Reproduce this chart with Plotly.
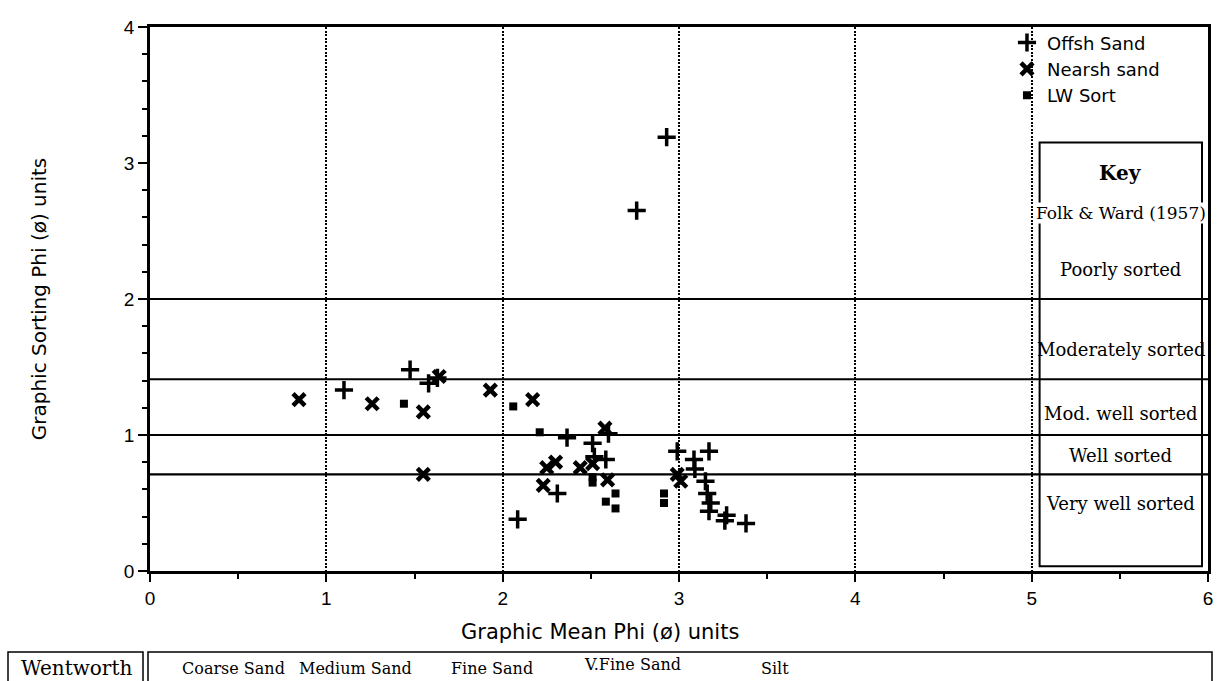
import plotly.graph_objects as go

# Graphic mean (phi) and graphic sorting (phi) for each sample group
offsh_mean = [2.93, 2.76, 1.475, 1.10, 1.58, 1.63, 2.365, 2.51, 2.60, 2.52, 2.585, 2.31, 2.085,
              2.99, 3.17, 3.085, 3.09, 3.15, 3.16, 3.18, 3.17, 3.27, 3.26, 3.38]
offsh_sort = [3.19, 2.65, 1.48, 1.33, 1.38, 1.42, 0.98, 0.94, 1.01, 0.84, 0.82, 0.57, 0.38,
              0.88, 0.88, 0.82, 0.75, 0.66, 0.57, 0.50, 0.44, 0.41, 0.37, 0.35]

nearsh_mean = [0.845, 1.26, 1.55, 1.64, 1.55, 1.93, 2.17, 2.58, 2.25, 2.30, 2.44, 2.51, 2.595, 2.23, 2.99, 3.01]
nearsh_sort = [1.26, 1.23, 1.17, 1.43, 0.71, 1.33, 1.26, 1.05, 0.76, 0.80, 0.76, 0.79, 0.67, 0.63, 0.71, 0.66]

lw_mean = [1.44, 2.06, 2.21, 2.51, 2.51, 2.585, 2.64, 2.64, 2.915, 2.915]
lw_sort = [1.23, 1.21, 1.02, 0.69, 0.65, 0.51, 0.57, 0.46, 0.57, 0.50]

# Folk & Ward (1957) sorting class boundaries and names
sort_bounds = [2.0, 1.41, 1.0, 0.71]
sort_classes = ["Poorly sorted", "Moderately sorted", "Mod. well sorted", "Well sorted", "Very well sorted"]

# Wentworth grain-size classes
wentworth_classes = ["Coarse Sand", "Medium Sand", "Fine Sand", "V.Fine Sand", "Silt"]

x_ticks = [0, 1, 2, 3, 4, 5, 6]
y_ticks = [0, 1, 2, 3, 4]

SANS = "Liberation Sans, Arial, sans-serif"
WIDE_SANS = "DejaVu Sans, sans-serif"
SERIF = "DejaVu Serif, Times New Roman, serif"

# plot area in page pixels
L, R, T, B = 150, 1208, 27, 571
W_PX, H_PX = R - L, B - T


def px_to_paper(px, py):
    return (px - L) / W_PX, (B - py) / H_PX


fig = go.Figure()

fig.add_trace(go.Scatter(
    x=offsh_mean, y=offsh_sort, mode="markers", name="Offsh Sand",
    marker=dict(symbol="cross-thin", size=13, color="black", line=dict(width=3.5, color="black")),
))
fig.add_trace(go.Scatter(
    x=nearsh_mean, y=nearsh_sort, mode="markers", name="Nearsh sand",
    marker=dict(symbol="x-thin", size=12, color="black", line=dict(width=4.5, color="black")),
))
fig.add_trace(go.Scatter(
    x=lw_mean, y=lw_sort, mode="markers", name="LW Sort",
    marker=dict(symbol="square", size=8, color="black", line=dict(width=0)),
))

shapes = []
# sorting class boundaries across the whole plot
for b in sort_bounds:
    shapes.append(dict(type="line", xref="x", yref="y", x0=0, x1=6, y0=b, y1=b,
                       line=dict(color="black", width=2.2), layer="below"))
# key box
shapes.append(dict(type="rect", xref="x", yref="y", x0=5.045, x1=5.966, y0=0.035, y1=3.15,
                   line=dict(color="black", width=2), layer="below"))

# Wentworth scale boxes under the axis
wx0, wy0 = px_to_paper(8, 652)
wx1, wy1 = px_to_paper(143, 700)
shapes.append(dict(type="rect", xref="paper", yref="paper", x0=wx0, x1=wx1, y0=wy0, y1=wy1,
                   line=dict(color="black", width=1.5)))
sx0, _ = px_to_paper(148, 652)
sx1, _ = px_to_paper(1212, 652)
shapes.append(dict(type="rect", xref="paper", yref="paper", x0=sx0, x1=sx1, y0=wy0, y1=wy1,
                   line=dict(color="black", width=1.5)))

annotations = []
annotations.append(dict(x=5.505, y=2.93, xref="x", yref="y", text="<b>Key</b>", showarrow=False,
                        xanchor="center", yanchor="middle",
                        font=dict(family=SERIF, size=20, color="black")))
annotations.append(dict(x=5.505, y=2.63, xref="x", yref="y", text="Folk &amp; Ward (1957)", showarrow=False,
                        xanchor="center", yanchor="middle", bgcolor="white", borderpad=0,
                        font=dict(family=SERIF, size=17, color="black")))
class_y = [2.22, 1.63, 1.16, 0.85, 0.5]
for name, yy in zip(sort_classes, class_y):
    annotations.append(dict(x=5.505, y=yy, xref="x", yref="y", text=name, showarrow=False,
                            xanchor="center", yanchor="middle",
                            font=dict(family=SERIF, size=18, color="black")))

# x-axis title
tx, ty = px_to_paper(600, 632)
annotations.append(dict(x=tx, y=ty, xref="paper", yref="paper", text="Graphic Mean Phi (ø) units",
                        showarrow=False, xanchor="center", yanchor="middle",
                        font=dict(family=WIDE_SANS, size=21, color="black")))

# Wentworth row
wtx, wty = px_to_paper(76, 668)
annotations.append(dict(x=wtx, y=wty, xref="paper", yref="paper", text="Wentworth", showarrow=False,
                        xanchor="center", yanchor="middle",
                        font=dict(family=SERIF, size=20, color="black")))
went_x = [233, 355, 492, 632, 775]
went_y = [668, 668, 668, 664, 668]
for name, px, py in zip(wentworth_classes, went_x, went_y):
    ax, ay = px_to_paper(px, py)
    annotations.append(dict(x=ax, y=ay, xref="paper", yref="paper", text=name, showarrow=False,
                            xanchor="center", yanchor="middle",
                            font=dict(family=SERIF, size=16, color="black")))

fig.update_layout(
    width=1218, height=681,
    margin=dict(l=L, r=1218 - R, t=T, b=681 - B, autoexpand=False),
    paper_bgcolor="white", plot_bgcolor="white",
    showlegend=True,
    legend=dict(x=0.81, y=1.005, xanchor="left", yanchor="top", bgcolor="rgba(0,0,0,0)",
                font=dict(family=WIDE_SANS, size=18, color="black"),
                itemsizing="trace", tracegroupgap=0),
    shapes=shapes, annotations=annotations,
    xaxis=dict(range=[0, 6], tickvals=x_ticks, ticktext=[str(v) for v in x_ticks],
               showline=True, linecolor="black", linewidth=2.5, mirror=True,
               ticks="outside", ticklen=8, tickwidth=2, tickcolor="black",
               minor=dict(dtick=0.5, ticks="outside", ticklen=5, tickwidth=2, tickcolor="black", showgrid=False),
               showgrid=True, gridcolor="black", gridwidth=1.8, griddash="2px,1.5px",
               zeroline=False, automargin=False,
               tickfont=dict(family=SANS, size=19, color="black")),
    yaxis=dict(range=[0, 4], tickvals=y_ticks, ticktext=[str(v) for v in y_ticks],
               showline=True, linecolor="black", linewidth=2.5, mirror=True,
               ticks="outside", ticklen=9, tickwidth=2, tickcolor="black",
               minor=dict(dtick=0.2, ticks="outside", ticklen=5, tickwidth=2, tickcolor="black", showgrid=False),
               showgrid=False, zeroline=False, automargin=False,
               tickfont=dict(family=SANS, size=19, color="black"),
               title=dict(text="Graphic Sorting Phi (ø) units", standoff=72,
                          font=dict(family=WIDE_SANS, size=20, color="black"))),
)

fig.write_html("out.html")
